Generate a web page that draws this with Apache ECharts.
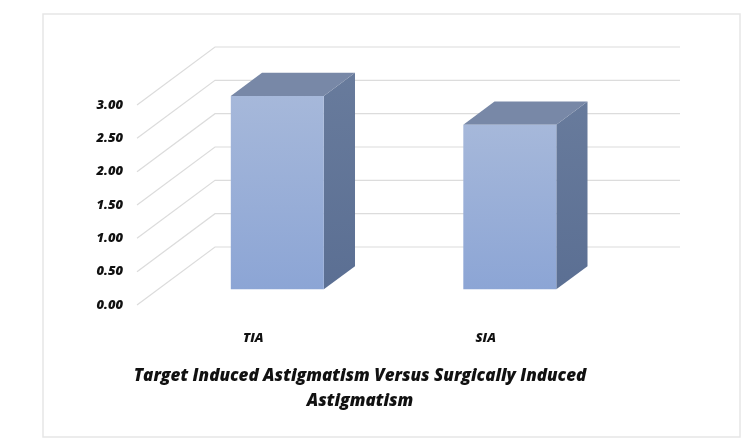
<!DOCTYPE html>
<html>
<head>
<meta charset="utf-8">
<script src="https://cdn.jsdelivr.net/npm/echarts@6/dist/echarts.min.js"></script>
<style>
  html, body { margin: 0; padding: 0; background: #ffffff; }
  #chart { width: 748px; height: 439px; }
</style>
</head>
<body>
<div id="chart"></div>
<script>
// Mean astigmatism values per group
const categories = ['TIA', 'SIA'];
const values = [2.9, 2.47];
const yTicks = [0, 0.5, 1, 1.5, 2, 2.5, 3];
const chartTitle = 'Target Induced Astigmatism Versus Surgically Induced\nAstigmatism';

// Oblique projection of the depth axis (pixels from front plane to back wall)
const DEPTH_X = 78;
const DEPTH_Y = 58;
// Bars sit between these fractions of the depth
const BAR_FRONT = 0.27;
const BAR_BACK = 0.67;
const BAR_WIDTH_RATIO = 0.40;
const BAR_NUDGE_X = 3;

const labelFont = {
  fontFamily: 'Open Sans',
  fontWeight: 800,
  fontStyle: 'italic',
  color: '#111111'
};

const chart = echarts.init(document.getElementById('chart'), null, { renderer: 'canvas' });

// Back wall gridlines, each joined to its front-plane tick by a diagonal
function renderGridline(params, api) {
  const v = api.value(1);
  const cs = params.coordSys;
  const y = api.coord([0, v])[1];
  const x0 = cs.x;
  const x1 = cs.x + cs.width;
  return {
    type: 'polyline',
    shape: {
      points: [
        [x0, y],
        [x0 + DEPTH_X, y - DEPTH_Y],
        [x1 + DEPTH_X, y - DEPTH_Y]
      ]
    },
    style: { stroke: '#dcdcdc', lineWidth: 1.2, fill: null },
    silent: true
  };
}

// 3D column: front, side and top faces
function renderBar(params, api) {
  const idx = api.value(0);
  const v = api.value(1);
  const top = api.coord([idx, v]);
  const base = api.coord([idx, 0]);
  const band = api.size([1, 0])[0];
  const half = band * BAR_WIDTH_RATIO / 2;
  const fx = BAR_FRONT * DEPTH_X + BAR_NUDGE_X, fy = -BAR_FRONT * DEPTH_Y;
  const bx = BAR_BACK * DEPTH_X + BAR_NUDGE_X, by = -BAR_BACK * DEPTH_Y;
  const L = top[0] - half, R = top[0] + half;
  const T = top[1], B = base[1];

  const front = [[L + fx, T + fy], [R + fx, T + fy], [R + fx, B + fy], [L + fx, B + fy]];
  const side = [[R + fx, T + fy], [R + bx, T + by], [R + bx, B + by], [R + fx, B + fy]];
  const topFace = [[L + fx, T + fy], [L + bx, T + by], [R + bx, T + by], [R + fx, T + fy]];

  return {
    type: 'group',
    children: [
      {
        type: 'polygon',
        shape: { points: side },
        style: {
          fill: new echarts.graphic.LinearGradient(0, 0, 0, 1, [
            { offset: 0, color: '#687b9c' },
            { offset: 1, color: '#5b6f93' }
          ])
        }
      },
      {
        type: 'polygon',
        shape: { points: topFace },
        style: { fill: '#7888a7' }
      },
      {
        type: 'polygon',
        shape: { points: front },
        style: {
          fill: new echarts.graphic.LinearGradient(0, 0, 0, 1, [
            { offset: 0, color: '#a6b8da' },
            { offset: 1, color: '#8ca5d5' }
          ])
        }
      }
    ]
  };
}

const option = {
  backgroundColor: '#ffffff',
  animation: false,
  graphic: [
    {
      type: 'rect',
      shape: { x: 43, y: 14, width: 697, height: 423 },
      style: { fill: null, stroke: '#e6e6e6', lineWidth: 1.5 },
      silent: true,
      z: -10
    }
  ],
  title: {
    text: chartTitle,
    left: 355,
    top: 359,
    textAlign: 'center',
    textStyle: Object.assign({}, labelFont, {
      fontSize: 17,
      lineHeight: 25
    })
  },
  grid: {
    left: 137,
    right: 146,
    top: 105,
    bottom: 134
  },
  xAxis: {
    type: 'category',
    data: categories,
    axisLine: { show: false },
    axisTick: { show: false },
    splitLine: { show: false },
    axisLabel: Object.assign({}, labelFont, { fontSize: 13, margin: 27 })
  },
  yAxis: {
    type: 'value',
    min: 0,
    max: 3,
    interval: 0.5,
    axisLine: { show: false },
    axisTick: { show: false },
    splitLine: { show: false },
    axisLabel: Object.assign({}, labelFont, {
      fontSize: 13,
      margin: 14,
      formatter: function (v) { return v.toFixed(2); }
    })
  },
  series: [
    {
      type: 'custom',
      name: 'gridlines',
      renderItem: renderGridline,
      data: yTicks.map(function (t) { return [0, t]; }),
      encode: { x: 0, y: 1 },
      z: 1,
      silent: true
    },
    {
      type: 'custom',
      name: 'Astigmatism',
      renderItem: renderBar,
      data: values.map(function (v, i) { return [i, v]; }),
      encode: { x: 0, y: 1 },
      z: 5
    }
  ]
};

chart.setOption(option);
</script>
</body>
</html>
